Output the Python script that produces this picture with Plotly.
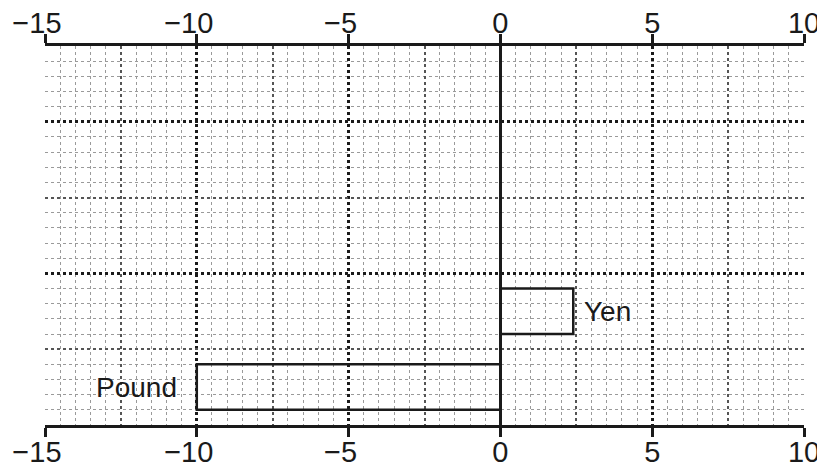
import plotly.graph_objects as go

# currency changes
currencies = ["Pound", "Yen"]
changes = [-10, 2.4]
row_pos = [2.5, 7.5]   # bar centres on the 0..25 vertical grid

x_ticks = [-15, -10, -5, 0, 5, 10]
# figure space after negative labels so the digits sit over the tick
x_ticktext = [f"\u2212{abs(v)}\u2007" if v < 0 else str(v) for v in x_ticks]

FONT = "Liberation Sans, Arial, sans-serif"

fig = go.Figure()

fig.add_trace(go.Bar(
    x=changes,
    y=row_pos,
    orientation="h",
    width=3,
    marker=dict(color="rgba(0,0,0,0)", line=dict(color="#1a1a1a", width=2.5)),
    showlegend=False,
    hoverinfo="skip",
))

# labels next to the bar ends
for name, val, pos in zip(currencies, changes, row_pos):
    fig.add_annotation(
        x=val, y=pos, text=name, showarrow=False,
        xanchor="right" if val < 0 else "left",
        xshift=-18 if val < 0 else 9,
        font=dict(family=FONT, size=28, color="#1a1a1a"),
    )

axis_font = dict(family=FONT, size=29, color="#1a1a1a")

# page body has an 8px margin, so the figure is 8px smaller each way
fig.update_layout(
    width=817,
    height=462,
    margin=dict(l=37, r=21, t=38, b=45),
    plot_bgcolor="white",
    paper_bgcolor="white",
    xaxis=dict(
        range=[-15, 10],
        tickvals=x_ticks, ticktext=x_ticktext,
        ticks="outside", ticklen=9, tickwidth=2.5, tickcolor="#1a1a1a",
        ticklabelstandoff=-10,
        showline=True, linecolor="#1a1a1a", linewidth=2.5,
        tickfont=axis_font, automargin=False,
        showgrid=True, gridcolor="#1a1a1a", gridwidth=2.5, griddash="dot",
        zeroline=True, zerolinecolor="#1a1a1a", zerolinewidth=2.5,
        minor=dict(dtick=0.5, showgrid=True, gridcolor="#9a9a9a",
                   gridwidth=1, griddash="dot"),
        fixedrange=True,
    ),
    xaxis2=dict(
        overlaying="x", side="top", matches="x", anchor="y",
        tickvals=x_ticks, ticktext=x_ticktext,
        ticks="outside", ticklen=9, tickwidth=2.5, tickcolor="#1a1a1a",
        ticklabelstandoff=-10,
        showline=True, linecolor="#1a1a1a", linewidth=2.5,
        tickfont=axis_font, automargin=False,
        showgrid=False, zeroline=False,
    ),
    xaxis3=dict(
        overlaying="x", matches="x", anchor="y",
        tick0=2.5, dtick=5, showticklabels=False, ticks="",
        showgrid=True, gridcolor="#555555", gridwidth=1.5, griddash="dot",
        zeroline=False, showline=False, automargin=False,
    ),
    yaxis=dict(
        range=[0, 25],
        tick0=0, dtick=10,
        showticklabels=False, ticks="",
        showgrid=True, gridcolor="#1a1a1a", gridwidth=2.5, griddash="dot",
        zeroline=False, showline=False, automargin=False,
        minor=dict(dtick=1, showgrid=True, gridcolor="#9a9a9a",
                   gridwidth=1, griddash="dot"),
        fixedrange=True,
    ),
    yaxis2=dict(
        overlaying="y", matches="y", anchor="x",
        tick0=5, dtick=10, showticklabels=False, ticks="",
        showgrid=True, gridcolor="#555555", gridwidth=1.5, griddash="dot",
        zeroline=False, showline=False, automargin=False,
    ),
)

# empty traces so the overlay axes get drawn
fig.add_trace(go.Scatter(x=[None], y=[None], xaxis="x2", yaxis="y",
                         showlegend=False, hoverinfo="skip"))
fig.add_trace(go.Scatter(x=[None], y=[None], xaxis="x3", yaxis="y2",
                         showlegend=False, hoverinfo="skip"))

fig.write_html("out.html")
